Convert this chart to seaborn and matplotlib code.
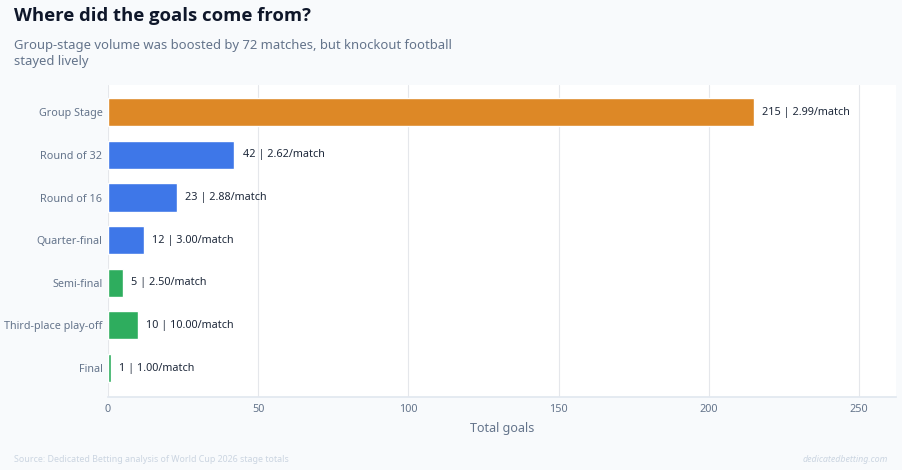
import matplotlib
matplotlib.use("Agg")
import matplotlib.pyplot as plt
import seaborn as sns
import pandas as pd

stages = ["Group Stage", "Round of 32", "Round of 16", "Quarter-final",
          "Semi-final", "Third-place play-off", "Final"]
goals = [215, 42, 23, 12, 5, 10, 1]
per_match = [2.99, 2.62, 2.88, 3.00, 2.50, 10.00, 1.00]
colors = ["#DD8826", "#3E77E8", "#3E77E8", "#3E77E8", "#2EAD5E", "#2EAD5E", "#2EAD5E"]
x_ticks = [0, 50, 100, 150, 200, 250]

df = pd.DataFrame({"stage": stages, "goals": goals, "per_match": per_match})

sns.set_theme(style="white")
plt.rcParams["font.family"] = ["Noto Sans", "DejaVu Sans"]

BG = "#F8FAFC"
fig = plt.figure(figsize=(9.02, 4.70), dpi=100, facecolor=BG)
ax = fig.add_axes([108/902, 1-397/470, (896-108)/902, (397-85)/470])
ax.set_facecolor("white")

sns.barplot(data=df, y="stage", x="goals", hue="stage", palette=colors,
            orient="h", width=0.66, legend=False, ax=ax, saturation=1)

for i, (g, p) in enumerate(zip(goals, per_match)):
    ax.annotate(f"{g} | {p:.2f}/match", xy=(g, i), xytext=(6, 0),
                textcoords="offset points", va="center", ha="left",
                fontsize=7.8, color="#1E293B")

ax.set_xlim(0, max(goals) * 1.22)
ax.set_ylim(6.68, -0.64)
ax.set_xticks(x_ticks)
ax.grid(axis="x", color="#E5E7EB", linewidth=0.8)
ax.set_axisbelow(True)
for s in ["top", "right", "left"]:
    ax.spines[s].set_visible(False)
ax.spines["bottom"].set_color("#E2E8F0")
ax.tick_params(axis="x", length=0, labelsize=7.8, labelcolor="#64748B", pad=5)
ax.tick_params(axis="y", length=0, labelsize=7.8, labelcolor="#64748B", pad=4)
ax.set_ylabel("")
ax.set_xlabel("Total goals", fontsize=9, color="#64748B", labelpad=5)

fig.text(14/902, 1-16/470, "Where did the goals come from?", fontsize=13.3,
         fontweight="bold", family=["Open Sans", "DejaVu Sans"],
         color="#0F172A", va="center", ha="left")
fig.text(14/902, 1-46/470, "Group-stage volume was boosted by 72 matches, but knockout football",
         fontsize=9.4, color="#64748B", va="center", ha="left")
fig.text(14/902, 1-61/470, "stayed lively",
         fontsize=9.4, color="#64748B", va="center", ha="left")
fig.text(14/902, 1-460/470, "Source: Dedicated Betting analysis of World Cup 2026 stage totals",
         fontsize=6.4, color="#CBD5E1", va="center", ha="left")
fig.text(888/902, 1-460/470, "dedicatedbetting.com",
         fontsize=6.4, color="#CBD5E1", va="center", ha="right", style="italic")

fig.savefig("out.png", dpi=100, facecolor=BG)
